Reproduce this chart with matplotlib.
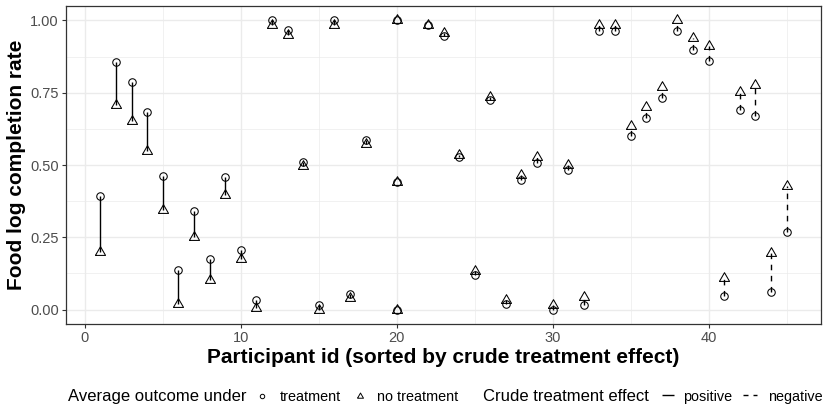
import matplotlib
matplotlib.use("Agg")
import matplotlib.pyplot as plt
from matplotlib.lines import Line2D
from matplotlib.ticker import MultipleLocator

plt.rcParams['font.family'] = ['Liberation Sans', 'DejaVu Sans']

# ---- data ----
participant_id = [1, 2, 3, 4, 5, 6, 7, 8, 9, 10, 11, 12, 13, 14, 15, 16, 17, 18,
                  20, 20, 20,
                  22, 23, 24, 25, 26, 27, 28, 29, 30, 31, 32, 33, 34, 35, 36, 37,
                  38, 39, 40, 41, 42, 43, 44, 45]
outcome_treatment = [0.393, 0.855, 0.786, 0.683, 0.462, 0.138, 0.341, 0.176, 0.459,
                     0.207, 0.034, 1.000, 0.966, 0.510, 0.017, 1.000, 0.054, 0.586,
                     1.000, 0.440, 0.000,
                     0.983, 0.945, 0.527, 0.120, 0.726, 0.020, 0.448, 0.508, 0.000,
                     0.483, 0.017, 0.963, 0.963, 0.600, 0.661, 0.733, 0.962, 0.897,
                     0.860, 0.048, 0.690, 0.669, 0.062, 0.268]
outcome_no_treatment = [0.200, 0.707, 0.652, 0.548, 0.345, 0.020, 0.250, 0.103, 0.397,
                        0.176, 0.006, 0.983, 0.948, 0.495, 0.000, 0.983, 0.040, 0.574,
                        1.000, 0.440, 0.000,
                        0.986, 0.955, 0.534, 0.132, 0.736, 0.034, 0.466, 0.529, 0.017,
                        0.500, 0.042, 0.986, 0.986, 0.634, 0.699, 0.770, 1.000, 0.940,
                        0.910, 0.109, 0.753, 0.778, 0.195, 0.428]
x_ticks = [0, 10, 20, 30, 40]
y_ticks = [0.00, 0.25, 0.50, 0.75, 1.00]
y_tick_labels = ["0.00", "0.25", "0.50", "0.75", "1.00"]

W, H = 830, 415
fig = plt.figure(figsize=(W / 100, H / 100), dpi=100)

def fx(px):
    return px / W

def fy(py):
    return 1 - py / H

# panel in pixels: left 66, right 821, top 6, bottom 324
ax = fig.add_axes([fx(66), fy(324), (821 - 66) / W, (324 - 6) / H])

# equilateral triangle (centroid centred), like R pch 2
tri = [(-1.0, -0.57735), (1.0, -0.57735), (0.0, 1.1547), (-1.0, -0.57735)]

# segments
for x, t, n in zip(participant_id, outcome_treatment, outcome_no_treatment):
    eff = t - n
    if eff > 0:
        ax.plot([x, x], [t, n], color='black', lw=1.0, solid_capstyle='butt', zorder=3)
    elif eff < 0:
        ax.plot([x, x], [t, n], color='black', lw=1.0, linestyle=(0, (4, 4)),
                dash_capstyle='butt', zorder=3)

c_ms = 5.4
ax.plot(participant_id, outcome_treatment, linestyle='none', marker='o',
        mfc='none', mec='black', ms=c_ms, mew=0.75, zorder=4)
ax.plot(participant_id, outcome_no_treatment, linestyle='none', marker=tri,
        mfc='none', mec='black', ms=c_ms * 1.555, mew=0.75, zorder=4)

ax.set_xlim(-1.2, 47.2)
ax.set_ylim(-0.05, 1.05)
ax.set_xticks(x_ticks)
ax.set_xticklabels([str(v) for v in x_ticks])
ax.set_yticks(y_ticks)
ax.set_yticklabels(y_tick_labels)
ax.xaxis.set_minor_locator(MultipleLocator(5))
ax.yaxis.set_minor_locator(MultipleLocator(0.125))

ax.grid(True, which='major', color='#EBEBEB', lw=1.0, zorder=0)
ax.grid(True, which='minor', color='#EBEBEB', lw=0.5, zorder=0)
ax.set_axisbelow(True)
for s in ax.spines.values():
    s.set_color('#333333')
    s.set_linewidth(0.9)
ax.tick_params(which='major', length=2.7, width=0.8, color='#333333',
               labelsize=10.5, labelcolor='#4D4D4D', pad=2.5)
ax.tick_params(which='minor', length=0)

ax.set_xlabel("Participant id (sorted by crude treatment effect)",
              fontsize=15, fontweight='bold', va='baseline')
ax.xaxis.set_label_coords(0.5, (324 - 363) / 318)
ax.set_ylabel("Food log completion rate", fontsize=15, fontweight='bold',
              va='baseline')
ax.yaxis.set_label_coords((22 - 66) / 755, 0.5)

# ---- legend (bottom, ggplot style) ----
base = fy(401)
fig.text(fx(68), base, "Average outcome under", fontsize=12, ha='left', va='baseline')
fig.add_artist(Line2D([fx(262)], [fy(396)], marker='o', mfc='none', mec='black',
                      ms=3.2, mew=0.7, linestyle='none', transform=fig.transFigure))
fig.text(fx(280), base, "treatment", fontsize=10.4, ha='left', va='baseline')
fig.add_artist(Line2D([fx(359.5)], [fy(396)], marker=tri, mfc='none', mec='black',
                      ms=3.2 * 1.555, mew=0.7, linestyle='none', transform=fig.transFigure))
fig.text(fx(377), base, "no treatment", fontsize=10.4, ha='left', va='baseline')

fig.text(fx(483), base, "Crude treatment effect", fontsize=12, ha='left', va='baseline')
fig.add_artist(Line2D([fx(662), fx(674)], [fy(395), fy(395)], color='black', lw=1.0,
                      solid_capstyle='butt', transform=fig.transFigure))
fig.text(fx(683), base, "positive", fontsize=10.4, ha='left', va='baseline')
fig.add_artist(Line2D([fx(743), fx(757)], [fy(395), fy(395)], color='black', lw=1.0,
                      linestyle=(0, (3.6, 3.6)), dash_capstyle='butt',
                      transform=fig.transFigure))
fig.text(fx(768), base, "negative", fontsize=10.4, ha='left', va='baseline')

fig.savefig("out.png", dpi=100)
